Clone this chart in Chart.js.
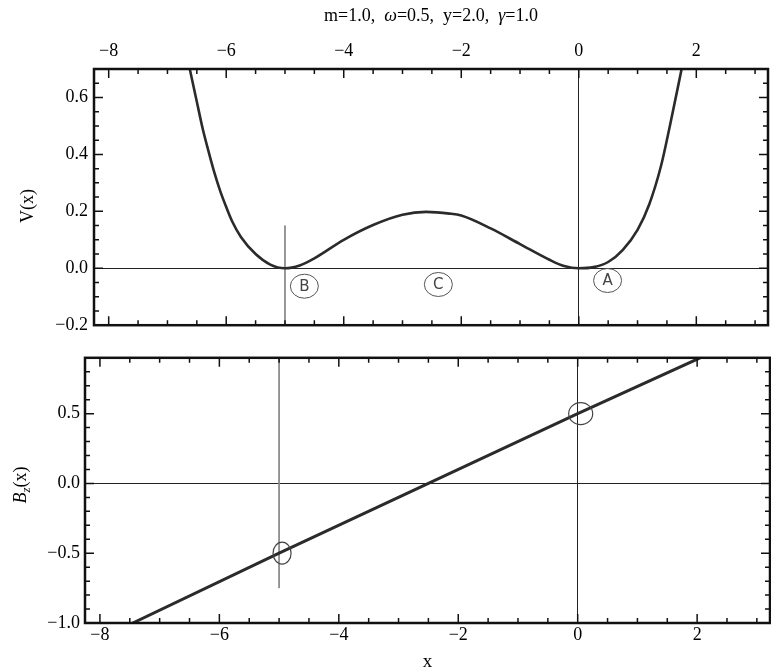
<!DOCTYPE html>
<html>
<head>
<meta charset="utf-8">
<script src="https://cdn.jsdelivr.net/npm/chart.js@4"></script>
<style>
  body { margin: 0; background: #fff; }
  #wrap { position: relative; width: 771px; height: 670px; }
  canvas { position: absolute; left: 0; }
  #topCanvas { top: 0; }
  #botCanvas { top: 342px; }
</style>
</head>
<body>
<div id="wrap">
  <canvas id="topCanvas" width="771" height="342"></canvas>
  <canvas id="botCanvas" width="771" height="328"></canvas>
</div>
<script>
// ---------- Data ----------
const xTickVals = [-8, -6, -4, -2, 0, 2];
const vTickVals = [-0.2, 0, 0.2, 0.4, 0.6];
const bTickVals = [-1, -0.5, 0, 0.5];

// V(x) curve, upper panel
const vX = [-6.62, -6.5, -6.4, -6.3, -6.2, -6.1, -6.0, -5.9, -5.75, -5.5, -5.25, -5.0, -4.75, -4.5, -4.0, -3.5, -3.0, -2.6,
            -2.2, -2.0, -1.5, -1.0, -0.5, -0.25, 0, 0.25, 0.5, 0.75, 1.0, 1.2, 1.4, 1.55, 1.75];
const vY = [0.70, 0.585, 0.49, 0.41, 0.335, 0.27, 0.215, 0.165, 0.11, 0.05, 0.013, 0.0, 0.01, 0.035, 0.10, 0.152, 0.188, 0.198,
            0.192, 0.185, 0.14, 0.085, 0.03, 0.008, 0.0, 0.004, 0.022, 0.065, 0.135, 0.225, 0.36, 0.5, 0.70];

// B_z(x) line, lower panel
const bX = [-7.45, -5.0, -2.5, 0.0, 2.05];
const bY = [-1.0, -0.5, 0.0, 0.5, 0.9];

// hand drawn pencil marks
const handTopX = [-5.0, -5.0], handTopY = [0.15, -0.2];
const handBotX = [-5.0, -5.0], handBotY = [0.9, -0.75];
const topNotes = [["B", -4.67, -0.063], ["C", -2.39, -0.057], ["A", 0.49, -0.043]];
const botCircles = [[-4.95, -0.5, 9, 11], [0.05, 0.5, 12, 11]];

const SERIF = '"Liberation Serif", "DejaVu Serif", serif';
const xMin = -8.25, xMax = 3.22;

function pts(xs, ys) { return xs.map((x, i) => ({ x: x, y: ys[i] })); }
function fmt(v) {
    const s = Math.abs(v) < 1e-9 ? "0.0" : Math.abs(v).toFixed(1);
    return v < -1e-9 ? "\u2212" + s : s;
}
function fmtX(v) { return v < 0 ? "\u2212" + Math.abs(v) : String(v); }
function zeroOnly(ctx) { return ctx.tick && Math.abs(ctx.tick.value) < 1e-9 ? "#222" : "rgba(0,0,0,0)"; }

// ---------- Frame with inward ticks ----------
function drawFrame(chart, xMajor, yMajor, xStep, yStep) {
    const { ctx, chartArea: a, scales } = chart;
    const x = scales.x, y = scales.y;
    ctx.save();
    ctx.strokeStyle = "#111";
    ctx.lineWidth = 1.5;
    for (let i = Math.ceil(x.min / xStep); i <= Math.floor(x.max / xStep); i++) {
        const v = i * xStep;
        const len = xMajor.some(t => Math.abs(t - v) < 1e-6) ? 9 : 5;
        const px = x.getPixelForValue(v);
        ctx.beginPath();
        ctx.moveTo(px, a.bottom); ctx.lineTo(px, a.bottom - len);
        ctx.moveTo(px, a.top); ctx.lineTo(px, a.top + len);
        ctx.stroke();
    }
    for (let i = Math.ceil(y.min / yStep - 1e-6); i <= Math.floor(y.max / yStep + 1e-6); i++) {
        const v = i * yStep;
        const len = yMajor.some(t => Math.abs(t - v) < 1e-6) ? 9 : 5;
        const py = y.getPixelForValue(v);
        ctx.beginPath();
        ctx.moveTo(a.left, py); ctx.lineTo(a.left + len, py);
        ctx.moveTo(a.right, py); ctx.lineTo(a.right - len, py);
        ctx.stroke();
    }
    ctx.lineWidth = 2.5;
    ctx.strokeRect(a.left, a.top, a.width, a.height);
    ctx.restore();
}

const topPlugin = {
    id: "topFrame",
    afterDatasetsDraw(chart) {
        drawFrame(chart, xTickVals, vTickVals, 0.5, 0.05);
        const { ctx, scales: { x, y } } = chart;
        ctx.save();
        // pencil circles with letters
        ctx.strokeStyle = "#555";
        ctx.fillStyle = "#444";
        ctx.lineWidth = 1;
        ctx.font = '15px "DejaVu Sans"';
        ctx.textAlign = "center";
        ctx.textBaseline = "middle";
        topNotes.forEach(n => {
            const px = x.getPixelForValue(n[1]), py = y.getPixelForValue(n[2]);
            ctx.beginPath();
            ctx.ellipse(px, py, 14, 12, 0, 0, Math.PI * 2);
            ctx.stroke();
            ctx.fillText(n[0], px, py + 1);
        });
        // title
        const segs = [["m=1.0,  ", false], ["\u03c9", true], ["=0.5,  y=2.0,  ", false], ["\u03b3", true], ["=1.0", false]];
        let w = 0;
        segs.forEach(s => { ctx.font = (s[1] ? "italic " : "") + "18px " + SERIF; w += ctx.measureText(s[0]).width; });
        let cx = (chart.chartArea.left + chart.chartArea.right) / 2 - w / 2;
        ctx.fillStyle = "#000";
        ctx.textAlign = "left";
        ctx.textBaseline = "alphabetic";
        segs.forEach(s => {
            ctx.font = (s[1] ? "italic " : "") + "18px " + SERIF;
            ctx.fillText(s[0], cx, 21);
            cx += ctx.measureText(s[0]).width;
        });
        // y title
        ctx.translate(33, 206);
        ctx.rotate(-Math.PI / 2);
        ctx.font = "18px " + SERIF;
        ctx.textAlign = "center";
        ctx.fillText("V(x)", 0, 0);
        ctx.restore();
    }
};

const botPlugin = {
    id: "botFrame",
    afterDatasetsDraw(chart) {
        drawFrame(chart, xTickVals, bTickVals, 0.5, 0.1);
        const { ctx, scales: { x, y } } = chart;
        ctx.save();
        ctx.strokeStyle = "#444";
        ctx.lineWidth = 1.2;
        botCircles.forEach(c => {
            ctx.beginPath();
            ctx.ellipse(x.getPixelForValue(c[0]), y.getPixelForValue(c[1]), c[2], c[3], 0, 0, Math.PI * 2);
            ctx.stroke();
        });
        // x label
        ctx.fillStyle = "#000";
        ctx.font = "19px " + SERIF;
        ctx.textAlign = "center";
        ctx.textBaseline = "alphabetic";
        ctx.fillText("x", (chart.chartArea.left + chart.chartArea.right) / 2, 325);
        // B_z(x) title
        ctx.translate(26, 143);
        ctx.rotate(-Math.PI / 2);
        const parts = [["B", "italic 18px ", 0], ["z", "italic 13px ", 4], ["(x)", "18px ", 0]];
        let w = 0;
        parts.forEach(p => { ctx.font = p[1] + SERIF; w += ctx.measureText(p[0]).width; });
        let cx = -w / 2;
        ctx.textAlign = "left";
        parts.forEach(p => {
            ctx.font = p[1] + SERIF;
            ctx.fillText(p[0], cx, p[2]);
            cx += ctx.measureText(p[0]).width;
        });
        ctx.restore();
    }
};

const tickFont = { family: SERIF, size: 18 };

// ---------- Upper panel: V(x) ----------
new Chart(document.getElementById("topCanvas"), {
    type: "line",
    data: {
        datasets: [
            { data: pts(vX, vY), borderColor: "#2b2b2b", borderWidth: 2.6, pointRadius: 0, cubicInterpolationMode: "monotone" },
            { data: pts(handTopX, handTopY), borderColor: "#888", borderWidth: 1, pointRadius: 0 }
        ]
    },
    options: {
        responsive: false, animation: false, devicePixelRatio: 1,
        layout: { padding: { left: 0, right: 3, top: 0, bottom: 3 } },
        plugins: { legend: { display: false }, tooltip: { enabled: false } },
        scales: {
            x: {
                type: "linear", position: "top", min: xMin, max: xMax,
                afterBuildTicks: s => { s.ticks = xTickVals.map(v => ({ value: v })); },
                afterFit: s => { s.height = 69; },
                ticks: { font: tickFont, color: "#000", padding: 7, maxRotation: 0, autoSkip: false, callback: fmtX },
                grid: { drawTicks: false, color: zeroOnly, lineWidth: 1 },
                border: { display: false }
            },
            y: {
                type: "linear", min: -0.2, max: 0.7,
                afterBuildTicks: s => { s.ticks = vTickVals.map(v => ({ value: v })); },
                afterFit: s => { s.width = 94; },
                ticks: { font: tickFont, color: "#000", padding: 6, autoSkip: false, callback: fmt },
                grid: { drawTicks: false, color: zeroOnly, lineWidth: 1 },
                border: { display: false }
            }
        }
    },
    plugins: [topPlugin]
});

// ---------- Lower panel: B_z(x) ----------
new Chart(document.getElementById("botCanvas"), {
    type: "line",
    data: {
        datasets: [
            { data: pts(bX, bY), borderColor: "#2b2b2b", borderWidth: 3, pointRadius: 0 },
            { data: pts(handBotX, handBotY), borderColor: "#888", borderWidth: 1, pointRadius: 0 }
        ]
    },
    options: {
        responsive: false, animation: false, devicePixelRatio: 1,
        layout: { padding: { left: 0, right: 1, top: 3, bottom: 0 } },
        plugins: { legend: { display: false }, tooltip: { enabled: false } },
        scales: {
            x: {
                type: "linear", position: "bottom", min: xMin, max: xMax,
                afterBuildTicks: s => { s.ticks = xTickVals.map(v => ({ value: v })); },
                afterFit: s => { s.height = 47; },
                ticks: { font: tickFont, color: "#000", padding: 1, maxRotation: 0, autoSkip: false, callback: fmtX },
                grid: { drawTicks: false, color: zeroOnly, lineWidth: 1 },
                border: { display: false }
            },
            y: {
                type: "linear", min: -1.0, max: 0.9,
                afterBuildTicks: s => { s.ticks = bTickVals.map(v => ({ value: v })); },
                afterFit: s => { s.width = 85; },
                ticks: { font: tickFont, color: "#000", padding: 5, autoSkip: false, callback: fmt },
                grid: { drawTicks: false, color: zeroOnly, lineWidth: 1 },
                border: { display: false }
            }
        }
    },
    plugins: [botPlugin]
});
</script>
</body>
</html>
